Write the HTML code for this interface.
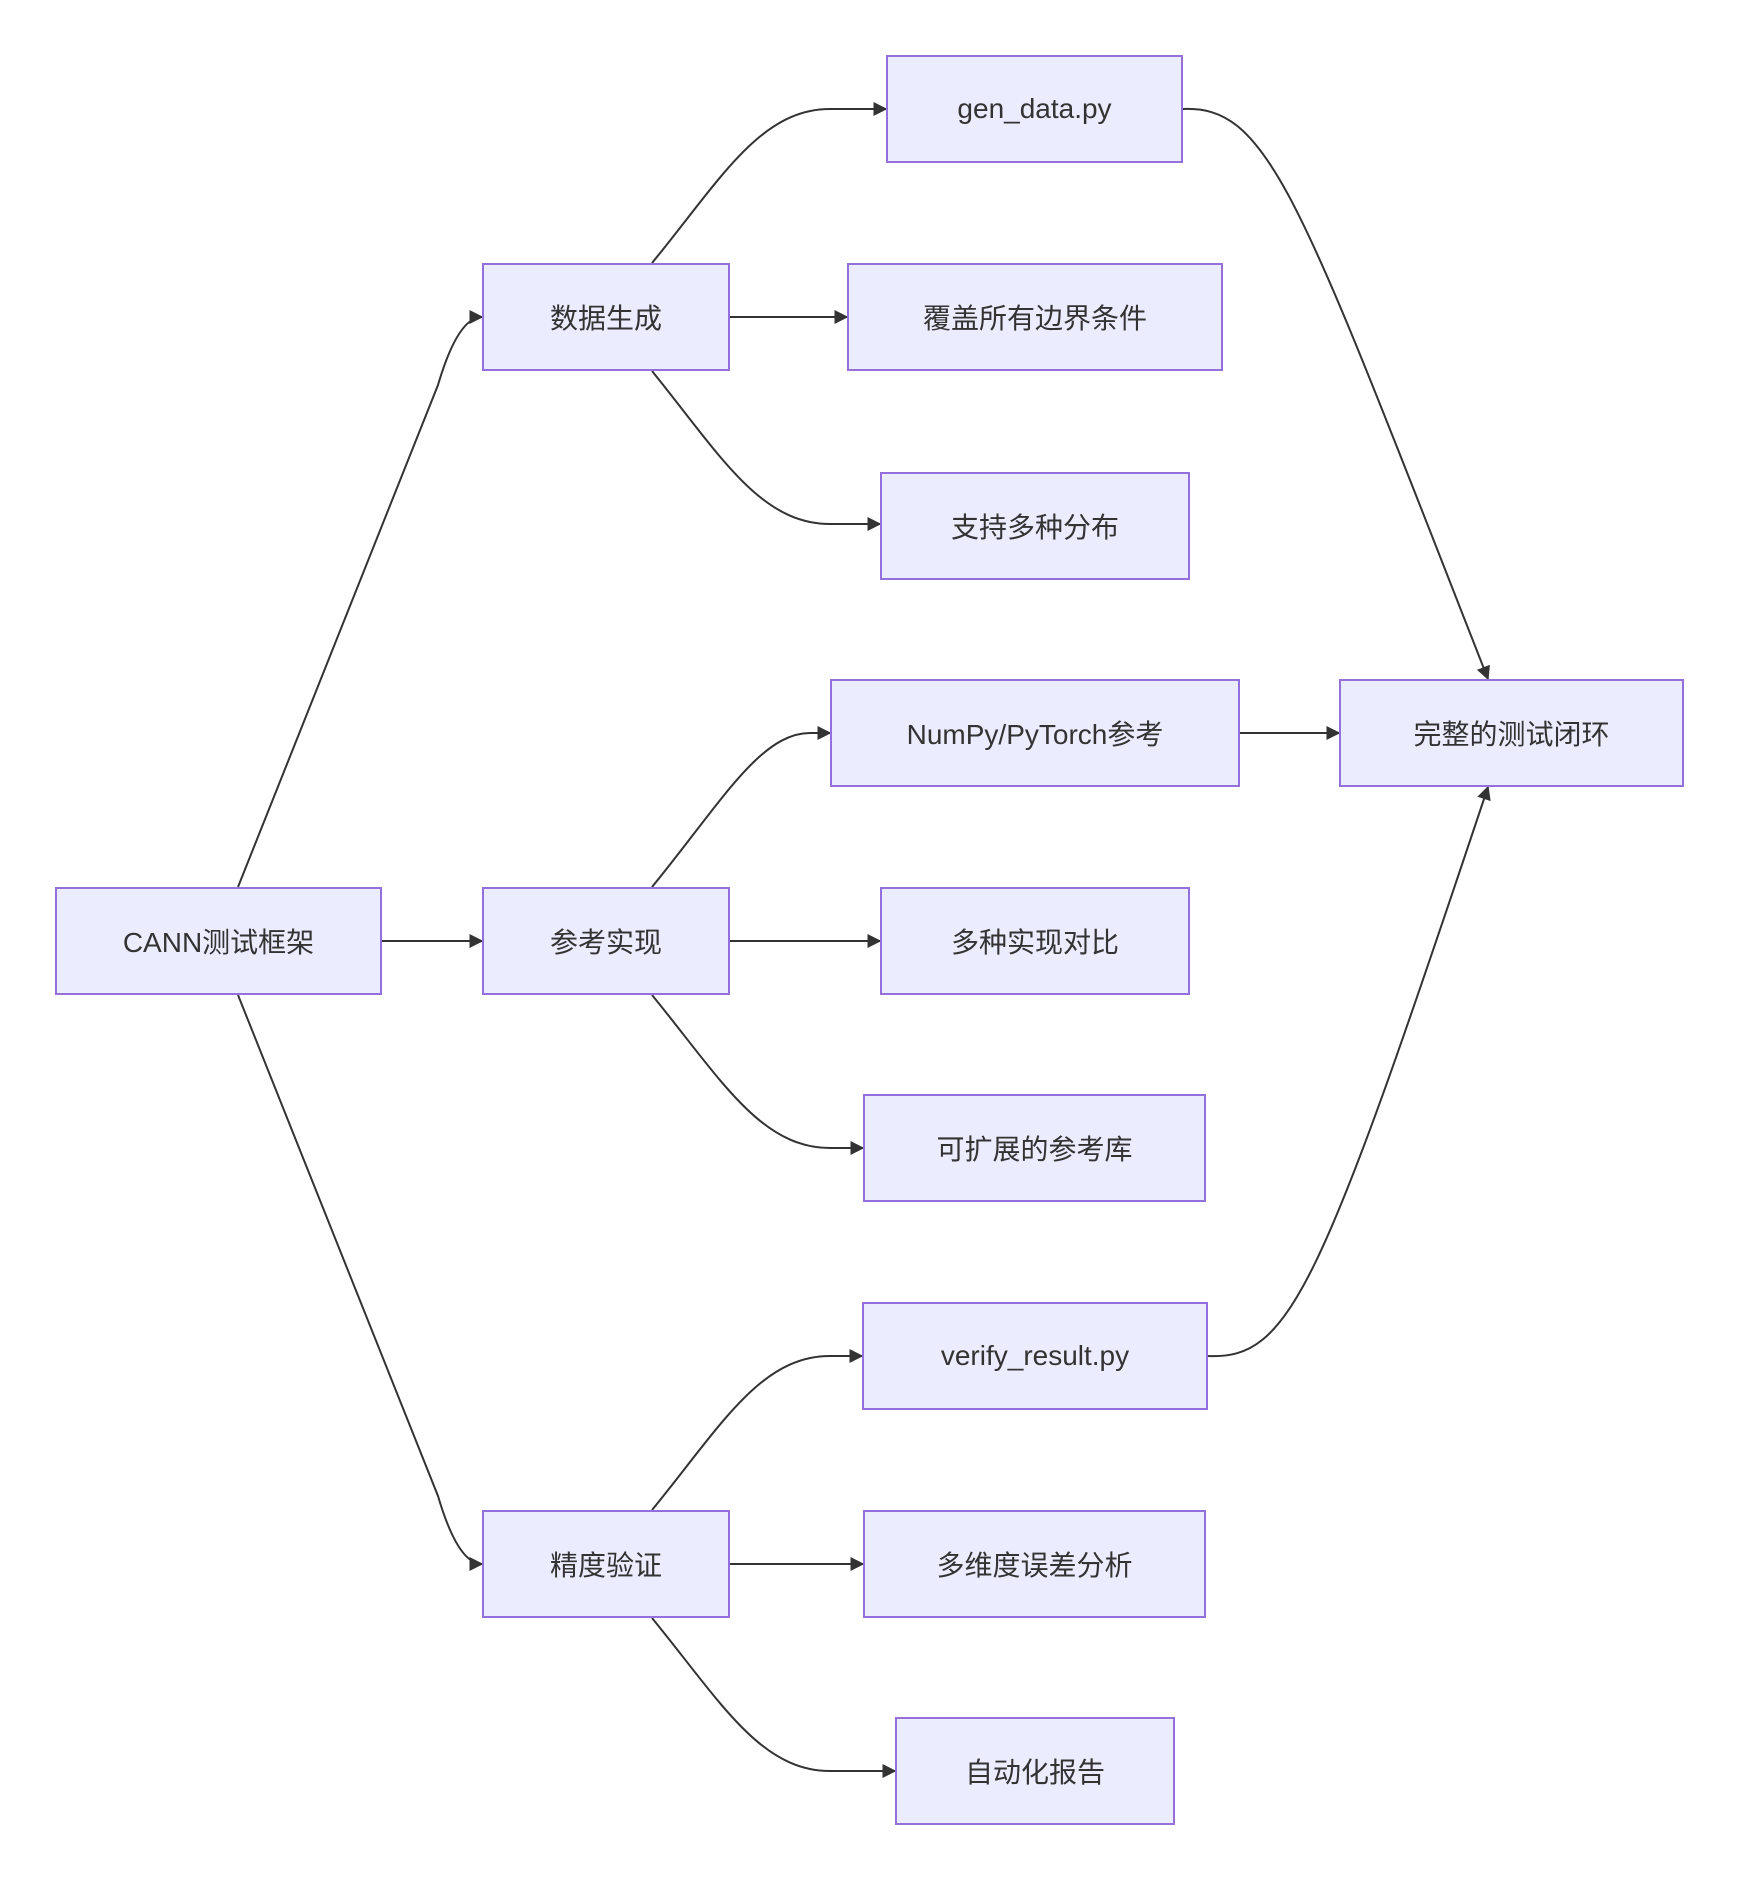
<!DOCTYPE html>
<html><head><meta charset="utf-8"><style>
html,body{margin:0;padding:0;background:#fff;}
body{width:1740px;height:1883px;position:relative;overflow:hidden;font-family:"Liberation Sans","Noto Sans CJK SC",sans-serif;}
.n{position:absolute;box-sizing:border-box;background:#ececff;border:2px solid #9370db;display:flex;align-items:center;justify-content:center;font-size:28px;color:#333;height:108px;}
svg{position:absolute;left:0;top:0;}
</style></head><body>
<svg width="1740" height="1883" viewBox="0 0 1740 1883">
<defs><marker id="a" viewBox="0 0 10 10" refX="9" refY="5" markerWidth="7" markerHeight="7" markerUnits="userSpaceOnUse" orient="auto"><path d="M0,0 L10,5 L0,10 z" fill="#333"/></marker>
<marker id="b" viewBox="0 0 10 10" refX="9" refY="5" markerWidth="14" markerHeight="14" markerUnits="userSpaceOnUse" orient="auto"><path d="M0,0 L10,5 L0,10 z" fill="#333"/></marker></defs>
<g fill="none" stroke="#333" stroke-width="2" marker-end="url(#b)">
<path d="M238,887 L438,385 Q458,317 482,317"/>
<path d="M238,995 L438,1496 Q458,1564 482,1564"/>
<path d="M382,941 L482,941"/>
<path d="M652,263 C720,180 760,109 830,109 L886,109"/>
<path d="M730,317 L847,317"/>
<path d="M652,371 C720,455 760,524 830,524 L880,524"/>
<path d="M652,887 C720,804 760,733 810,733 L830,733"/>
<path d="M730,941 L880,941"/>
<path d="M652,995 C720,1078 760,1148 830,1148 L863,1148"/>
<path d="M652,1510 C720,1427 760,1356 830,1356 L862,1356"/>
<path d="M730,1564 L863,1564"/>
<path d="M652,1618 C720,1701 760,1771 830,1771 L895,1771"/>
<path d="M1183,109 C1270,105 1300,200 1488,679"/>
<path d="M1240,733 L1339,733"/>
<path d="M1208,1356 C1290,1360 1320,1290 1488,787"/>
</g>
</svg>
<div class="n" style="left:886px;top:55px;width:297px">gen_data.py</div>
<div class="n" style="left:482px;top:263px;width:248px">数据生成</div>
<div class="n" style="left:847px;top:263px;width:376px">覆盖所有边界条件</div>
<div class="n" style="left:880px;top:472px;width:310px">支持多种分布</div>
<div class="n" style="left:830px;top:679px;width:410px">NumPy/PyTorch参考</div>
<div class="n" style="left:1339px;top:679px;width:345px">完整的测试闭环</div>
<div class="n" style="left:55px;top:887px;width:327px">CANN测试框架</div>
<div class="n" style="left:482px;top:887px;width:248px">参考实现</div>
<div class="n" style="left:880px;top:887px;width:310px">多种实现对比</div>
<div class="n" style="left:863px;top:1094px;width:343px">可扩展的参考库</div>
<div class="n" style="left:862px;top:1302px;width:346px">verify_result.py</div>
<div class="n" style="left:482px;top:1510px;width:248px">精度验证</div>
<div class="n" style="left:863px;top:1510px;width:343px">多维度误差分析</div>
<div class="n" style="left:895px;top:1717px;width:280px">自动化报告</div>
</body></html>
